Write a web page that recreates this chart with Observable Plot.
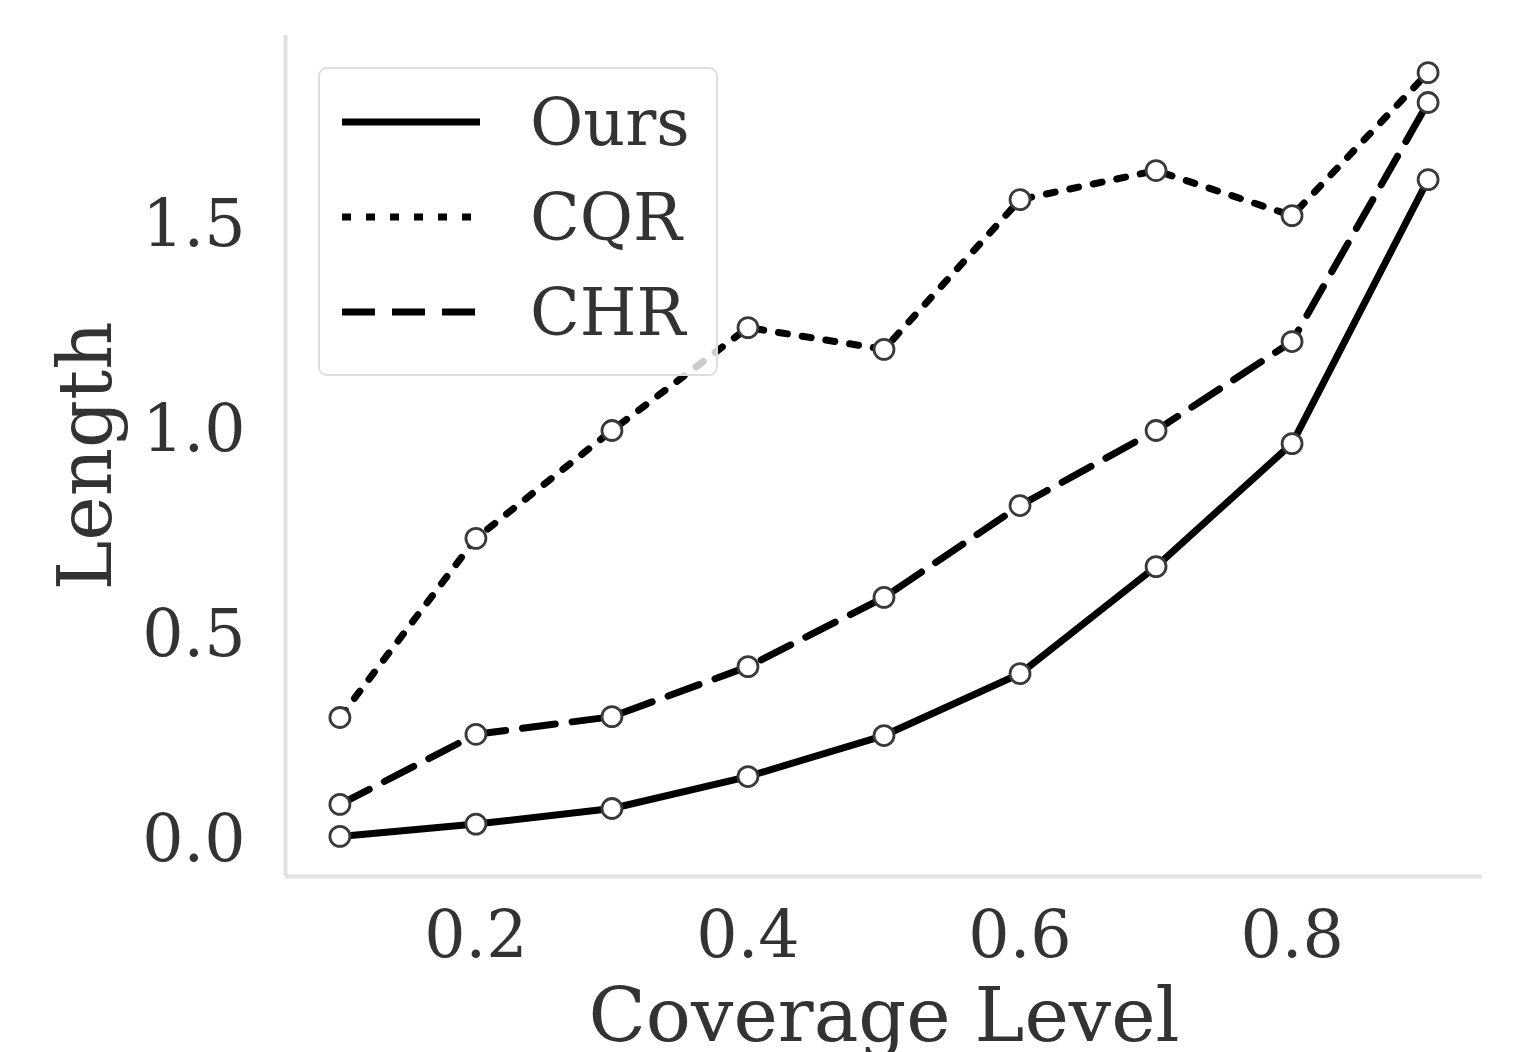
<!DOCTYPE html>
<html>
<head>
<meta charset="utf-8">
<script src="https://cdn.jsdelivr.net/npm/d3@7"></script>
<script src="https://cdn.jsdelivr.net/npm/@observablehq/plot@0.6"></script>
<style>
  html, body { margin: 0; padding: 0; background: #fff; }
  #wrap { position: relative; width: 1527px; height: 1052px; overflow: hidden; }
  #legend { position: absolute; left: 318px; top: 67px; }
</style>
</head>
<body>
<div id="wrap"></div>
<script>
// ---- data ----
const coverage = [0.1, 0.2, 0.3, 0.4, 0.5, 0.6, 0.7, 0.8, 0.9];
const ours = [0.01, 0.04, 0.078, 0.156, 0.256, 0.407, 0.668, 0.968, 1.612];
const cqr  = [0.30, 0.737, 1.0, 1.251, 1.198, 1.563, 1.634, 1.524, 1.873];
const chr  = [0.088, 0.259, 0.302, 0.424, 0.593, 0.817, 1.0, 1.217, 1.80];
const seriesNames = ["Ours", "CQR", "CHR"];
const xTicks = [0.2, 0.4, 0.6, 0.8];
const yTicks = [0.0, 0.5, 1.0, 1.5];
const xDomain = [0.06, 0.94];
const yDomain = [-0.0878, 1.9634];

// ---- styles ----
const FONT = "DejaVu Serif";
const TEXT = "#333";
const dashes = { Ours: null, CQR: "9,15", CHR: "33,17" };
const seriesValues = { Ours: ours, CQR: cqr, CHR: chr };

const rows = seriesNames.flatMap(s => coverage.map((c, i) => ({ series: s, x: c, y: seriesValues[s][i] })));

const marks = [
  Plot.ruleX([xDomain[0]], { stroke: "#e2e2e2", strokeWidth: 4 }),
  Plot.ruleY([yDomain[0]], { stroke: "#e2e2e2", strokeWidth: 4 }),
  Plot.axisX({ ticks: xTicks, tickFormat: d3.format(".1f"), tickSize: 0, tickPadding: 34,
               fontSize: 65, fill: TEXT, label: "Coverage Level", labelArrow: "none",
               labelAnchor: "center", labelOffset: 164 }),
  Plot.axisY({ ticks: yTicks, tickFormat: d3.format(".1f"), tickSize: 0, tickPadding: 40,
               fontSize: 65, fill: TEXT, label: "Length", labelArrow: "none",
               labelAnchor: "center", labelOffset: 228 })
];
for (const s of seriesNames) {
  const data = rows.filter(d => d.series === s);
  marks.push(Plot.line(data, { x: "x", y: "y", stroke: "black", strokeWidth: 7,
                               strokeDasharray: dashes[s] || undefined, strokeLinejoin: "round" }));
  marks.push(Plot.dot(data, { x: "x", y: "y", r: 10, fill: "white", stroke: "#3a3a3a", strokeWidth: 2.8 }));
}

const chart = Plot.plot({
  width: 1527, height: 1052,
  marginLeft: 285, marginTop: 35, marginRight: 45, marginBottom: 176,
  style: { fontFamily: FONT, color: TEXT, background: "white", fontSize: "65px" },
  x: { domain: xDomain },
  y: { domain: yDomain },
  marks
});
// enlarge the axis titles (they are bigger than the tick labels in the reference)
d3.select(chart).selectAll('g[aria-label="x-axis label"], g[aria-label="y-axis label"]')
  .attr("font-size", 75).style("font-size", "75px");
const wrap = document.getElementById("wrap");
wrap.appendChild(chart);

// ---- legend (overlay) ----
const lg = d3.select(wrap).append("svg").attr("id", "legend")
  .attr("width", 402).attr("height", 312);
lg.append("rect").attr("x", 1).attr("y", 1).attr("width", 398).attr("height", 307)
  .attr("rx", 8).attr("fill", "rgba(255,255,255,0.8)").attr("stroke", "#dedede").attr("stroke-width", 2);
seriesNames.forEach((s, i) => {
  const cy = 55 + i * 95;
  const ln = lg.append("line").attr("x1", 24).attr("x2", 162).attr("y1", cy).attr("y2", cy)
    .attr("stroke", "black").attr("stroke-width", 7);
  if (dashes[s]) ln.attr("stroke-dasharray", dashes[s]);
  lg.append("text").attr("x", 212).attr("y", cy).attr("dy", "0.36em")
    .attr("font-family", FONT).attr("font-size", 65).attr("fill", TEXT).text(s);
});
</script>
</body>
</html>
